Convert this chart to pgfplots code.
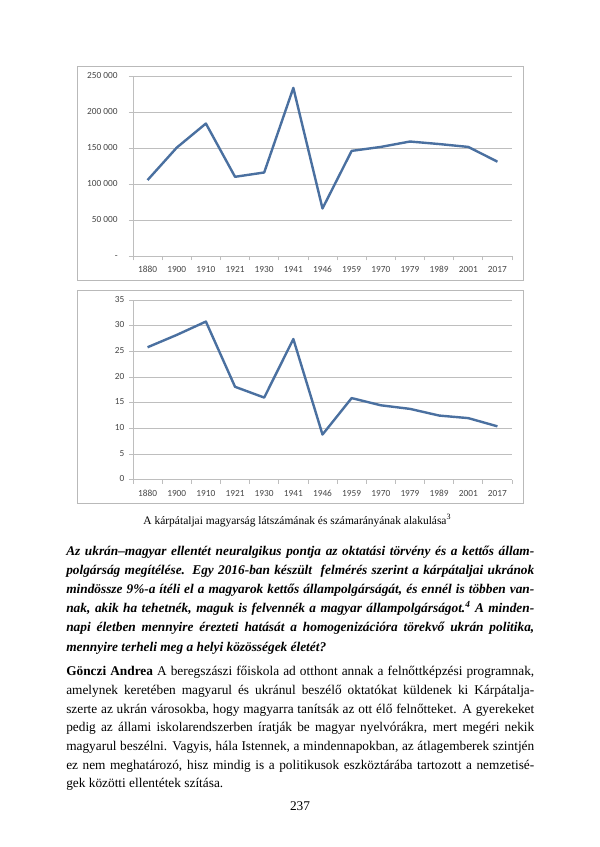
\documentclass[border=0pt]{standalone}
\usepackage{pgfplots}
\pgfplotsset{compat=1.18}
\usepackage{pgfplotstable}
\usepackage{fontspec}
\setmainfont{Liberation Serif}
\newfontfamily\calibri[Numbers=Lining]{Carlito}
\definecolor{serie}{RGB}{74,112,160}
\definecolor{tickgray}{RGB}{70,70,70}
\definecolor{gridgray}{RGB}{190,190,190}
\definecolor{framegray}{RGB}{185,185,185}

\pgfplotstableread{
idx year count
0 1880 105500
1 1900 150500
2 1910 184000
3 1921 110000
4 1930 116000
5 1941 233500
6 1946 66000
7 1959 146000
8 1970 151500
9 1979 159000
10 1989 155500
11 2001 151500
12 2017 131000
}\countdata

\pgfplotstableread{
idx year share
0 1880 25.8
1 1900 28.2
2 1910 30.8
3 1921 18.1
4 1930 16.0
5 1941 27.4
6 1946 8.8
7 1959 15.9
8 1970 14.5
9 1979 13.8
10 1989 12.5
11 2001 12.0
12 2017 10.4
}\sharedata

\pgfplotsset{
  excelstyle/.style={
    scale only axis,
    anchor=south west,
    width=284.25pt,
    xmin=-0.5, xmax=12.5,
    axis x line=bottom, axis y line=left,
    axis line style={-, draw=gridgray, line width=0.6pt},
    xtick={0,...,12},
    xticklabels={1880,1900,1910,1921,1930,1941,1946,1959,1970,1979,1989,2001,2017},
    minor xtick={-0.5,0.5,...,12.5},
    major x tick style={draw=none},
    minor x tick style={draw=gridgray, line width=0.6pt},
    major y tick style={draw=gridgray, line width=0.6pt},
    tick align=outside,
    major tick length=3pt,
    minor tick length=3pt,
    ymajorgrids,
    major grid style={draw=gridgray, line width=0.6pt},
    typeset ticklabels with strut,
    ticklabel style={font=\calibri\fontsize{7}{8}\selectfont, text=tickgray},
    xticklabel style={yshift=-0.5pt},
    /pgf/number format/assume math mode=true,
  }
}

\begin{document}
\begin{tikzpicture}
\useasboundingbox[fill=white] (0pt,0pt) rectangle (450pt,-635.25pt);

% chart frames
\draw[framegray, line width=0.6pt] (57.75pt,-49.5pt) rectangle (392.25pt,-210pt);
\draw[framegray, line width=0.6pt] (57.75pt,-217.5pt) rectangle (392.25pt,-377.25pt);

\begin{axis}[excelstyle,
  at={(99.75pt,-192pt)},
  height=135pt,
  ymin=0, ymax=250000,
  ytick={0,50000,100000,150000,200000,250000},
  yticklabels={-,50 000,100 000,150 000,200 000,250 000},
  yticklabel style={xshift=-5pt},
  scaled y ticks=false,
]
\addplot[serie, line width=1.8pt, line join=round] table[x=idx, y=count] {\countdata};
\end{axis}

\begin{axis}[excelstyle,
  at={(99.75pt,-359.8pt)},
  height=134.8pt,
  ymin=0, ymax=35,
  ytick={0,5,...,35},
  yticklabels={0,5,10,15,20,25,30,35},
]
\addplot[serie, line width=1.8pt, line join=round] table[x=idx, y=share] {\sharedata};
\end{axis}

% caption
\node[anchor=base, inner sep=0] at (223pt,-393.4pt)
  {\fontsize{8.6}{10}\selectfont A kárpátaljai magyarság látszámának és számarányának alakulása\textsuperscript{3}};

% paragraph 1
\node[anchor=base west, inner sep=0] at (49.5pt,-416.25pt) {\parbox[t]{351pt}{%
\fontsize{10}{14.4}\selectfont\bfseries\itshape
\makebox[351pt][s]{Az ukrán–magyar ellentét neuralgikus pontja az oktatási törvény és a kettős állam-}\\
\makebox[351pt][s]{polgárság megítélése. Egy 2016-ban készült \ felmérés szerint a kárpátaljai ukránok}\\
\makebox[351pt][s]{mindössze 9\%-a ítéli el a magyarok kettős állampolgárságát, és ennél is többen van-}\\
\makebox[351pt][s]{nak, akik ha tehetnék, maguk is felvennék a magyar állampolgárságot.\textsuperscript{4} A minden-}\\
\makebox[351pt][s]{napi életben mennyire érezteti hatását a homogenizációra törekvő ukrán politika,}\\
\makebox[351pt][l]{mennyire terheli meg a helyi közösségek életét?}}};

% paragraph 2
\node[anchor=base west, inner sep=0] at (49.5pt,-506.8pt) {\parbox[t]{351pt}{%
\fontsize{10}{14.0}\selectfont
\makebox[351pt][s]{\textbf{Gönczi Andrea} A beregszászi főiskola ad otthont annak a felnőttképzési programnak,}\\
\makebox[351pt][s]{amelynek keretében magyarul és ukránul beszélő oktatókat küldenek ki Kárpátalja-}\\
\makebox[351pt][s]{szerte az ukrán városokba, hogy magyarra tanítsák az ott élő felnőtteket. A gyerekeket}\\
\makebox[351pt][s]{pedig az állami iskolarendszerben íratják be magyar nyelvórákra, mert megéri nekik}\\
\makebox[351pt][s]{magyarul beszélni. Vagyis, hála Istennek, a mindennapokban, az átlagemberek szintjén}\\
\makebox[351pt][s]{ez nem meghatározó, hisz mindig is a politikusok eszköztárába tartozott a nemzetisé-}\\
\makebox[351pt][l]{gek közötti ellentétek szítása.}}};

% page number
\node[anchor=base, inner sep=0] at (225pt,-608pt) {\fontsize{10}{12}\selectfont 237};
\end{tikzpicture}
\end{document}
